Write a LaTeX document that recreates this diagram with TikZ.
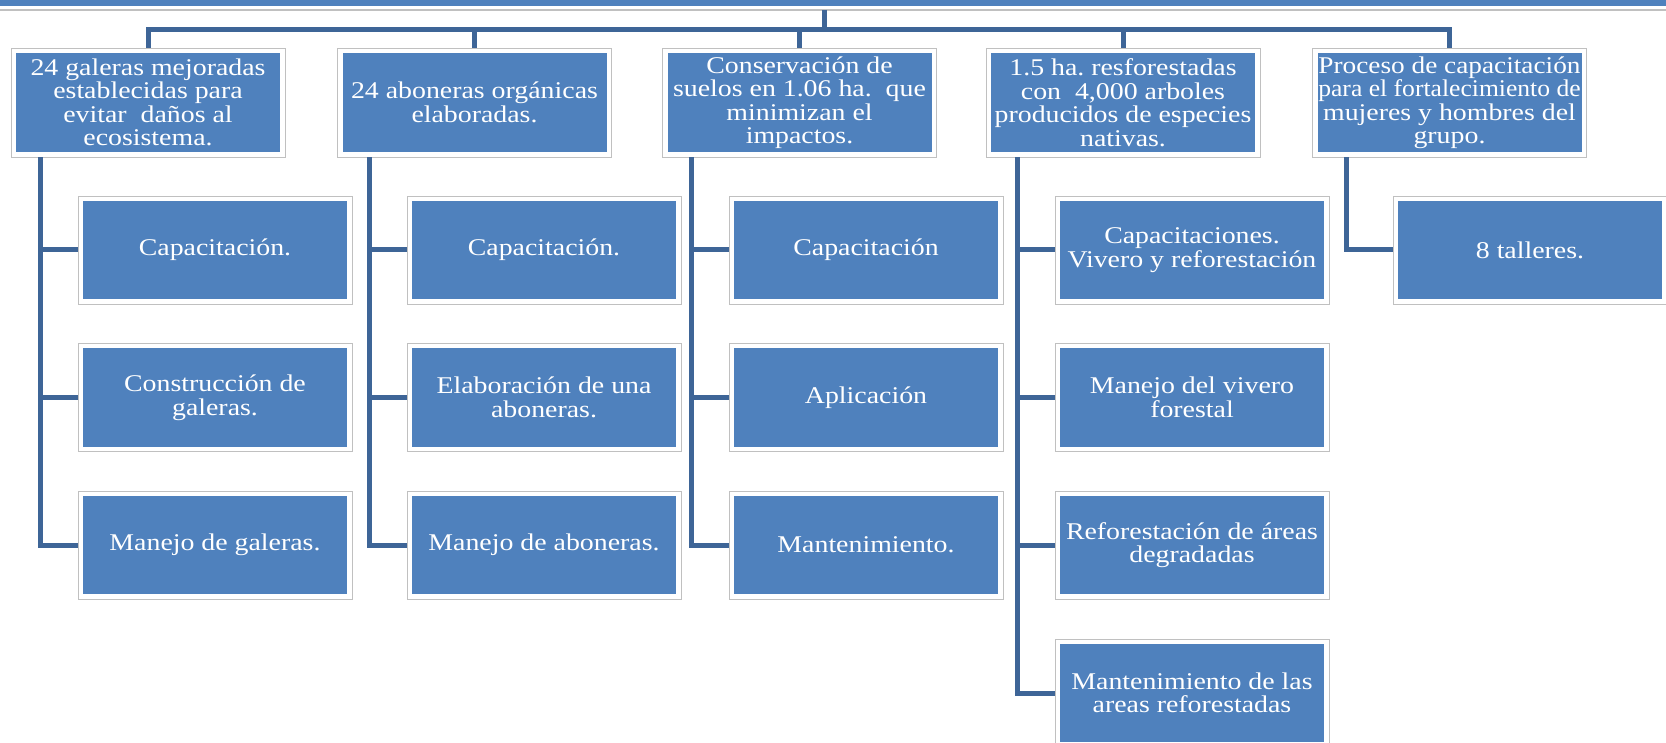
\documentclass[tikz,border=0pt]{standalone}
\usepackage{fontspec}
\usepackage{graphicx}
\usepackage{tikz}
\setmainfont{Liberation Serif}[FakeStretch=1.16]
\frenchspacing
\definecolor{boxblue}{RGB}{79,129,189}
\definecolor{linkblue}{RGB}{62,101,151}
\definecolor{rimgray}{RGB}{192,192,192}
\newcommand\boxfont{\fontsize{24}{23.5}\selectfont}

\begin{document}
\begin{tikzpicture}[x=1pt,y=-1pt,
	link/.style={linkblue,line width=5pt},
	card/.style={draw=rimgray,line width=0.8pt,fill=white,inner sep=0pt,
		minimum width=274pt,minimum height=108pt,align=center,text=white,font=\boxfont,
		path picture={\fill[boxblue] ([shift={(5pt,-5pt)}]path picture bounding box.north west)
			rectangle ([shift={(-5pt,5pt)}]path picture bounding box.south east);}},
	head/.style={card,minimum height=109pt}]
	\useasboundingbox (0,0) rectangle (1666,743);
	\fill[boxblue] (0,0) rectangle (1666,6);
	\draw[rimgray,line width=1.5pt] (0,10) -- (1666,10);
	\coordinate (R) at (824,10);
	\coordinate (S) at (824,29.5);
	\node[head] (A) at (148,102.5) {24 galeras mejoradas\\establecidas para\\evitar~ daños al\\ecosistema.};
	\node[head] (B) at (474.5,102.5) {24 aboneras orgánicas\\elaboradas.};
	\node[head] (C) at (799.5,102.5) {Conservación de\\suelos en 1.06 ha.~ que\\minimizan el\\impactos.};
	\node[head] (D) at (1123,102.5) {1.5 ha. resforestadas\\con~ 4,000 arboles\\producidos de especies\\nativas.};
	\node[head] (E) at (1449.5,102.5) {\scalebox{.98}[1]{Proceso de capacitación}\\\scalebox{.92}[1]{para el fortalecimiento de}\\mujeres y hombres del\\grupo.};
	\node[card] (A1) at (215,250) {Capacitación.};
	\node[card] (A2) at (215,397.5) {Construcción de\\galeras.};
	\node[card] (A3) at (215,545) {Manejo de galeras.};
	\node[card] (B1) at (544,250) {Capacitación.};
	\node[card] (B2) at (544,397.5) {Elaboración de una\\aboneras.};
	\node[card] (B3) at (544,545) {Manejo de aboneras.};
	\node[card] (C1) at (866,250) {Capacitación};
	\node[card] (C2) at (866,397.5) {Aplicación};
	\node[card] (C3) at (866,545) {Mantenimiento.};
	\node[card] (D1) at (1192,250) {Capacitaciones.\\Vivero y reforestación};
	\node[card] (D2) at (1192,397.5) {Manejo del vivero\\forestal};
	\node[card] (D3) at (1192,545) {Reforestación de áreas\\degradadas};
	\node[card] (D4) at (1192,693) {Mantenimiento de las\\areas reforestadas};
	\node[card] (E1) at (1530,250) {8 talleres.};
	\draw[link] (R) -- (S);
	\draw[link] (A.north) |- (S) -| (E.north);
	\foreach \n in {B,C,D}
		\draw[link] (\n.north) -- (\n.north |- S);
	\draw[link] ([xshift=-37pt]A1.west |- A.south) |- (A3.west);
	\draw[link] ([xshift=-37pt]A1.west) -- (A1.west);
	\draw[link] ([xshift=-37pt]A2.west) -- (A2.west);
	\draw[link] ([xshift=-37pt]B1.west |- B.south) |- (B3.west);
	\draw[link] ([xshift=-37pt]B1.west) -- (B1.west);
	\draw[link] ([xshift=-37pt]B2.west) -- (B2.west);
	\draw[link] ([xshift=-37pt]C1.west |- C.south) |- (C3.west);
	\draw[link] ([xshift=-37pt]C1.west) -- (C1.west);
	\draw[link] ([xshift=-37pt]C2.west) -- (C2.west);
	\draw[link] ([xshift=-37pt]D1.west |- D.south) |- (D4.west);
	\draw[link] ([xshift=-37pt]D1.west) -- (D1.west);
	\draw[link] ([xshift=-37pt]D2.west) -- (D2.west);
	\draw[link] ([xshift=-37pt]D3.west) -- (D3.west);
	\draw[link] ([xshift=-46pt]E1.west |- E.south) |- (E1.west);
\end{tikzpicture}
\end{document}
